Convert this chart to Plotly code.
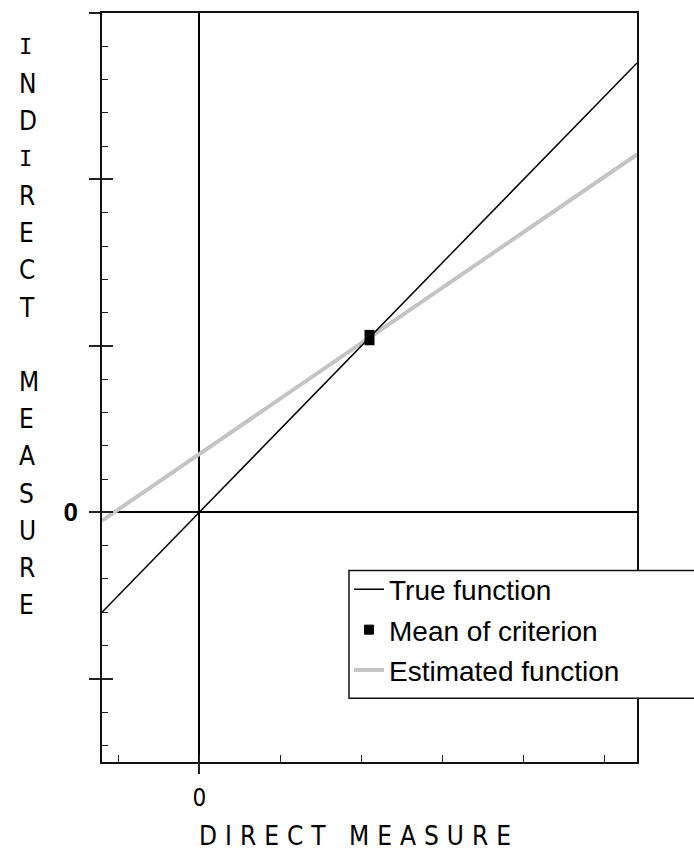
import plotly.graph_objects as go

# Axis ranges (data units)
x_range = [-1.2, 5.4]
y_range = [-1.5, 3.0]
x_ticks = [-1, 0, 1, 2, 3, 4, 5]
x_ticktext = ["", "0", "", "", "", "", ""]
y_ticks = [-1, 0, 1, 2, 3]
y_ticktext = ["", "<b>0</b>", "", "", ""]

# Line end points
true_x = [-1.2, 5.4]
true_y = [-0.6, 2.7]
est_x = [-1.2, 5.4]
est_y = [-0.05, 2.15]

# Mean of the criterion
mean_x = [2.1]
mean_y = [1.05]

y_title = "INDIRECT MEASURE"
x_title = "DIRECT MEASURE"

FONT = "Liberation Sans Narrow, DejaVu Sans Condensed, Liberation Sans, Arial, sans-serif"
LEG_FONT = "Liberation Sans, Arial, sans-serif"
MONO = "DejaVu Sans Mono"


def serif_i(size):
    return ("<span style='font-family:%s;font-size:%dpx'>I</span>"
            % (MONO, size))


W, H = 694, 856
M_L, M_R, M_T, M_B = 102, 57, 11, 94
PW, PH = W - M_L - M_R, H - M_T - M_B


def px_x(px):
    return (px - M_L) / PW


def px_y(py):
    return (H - M_B - py) / PH


fig = go.Figure()

fig.add_trace(go.Scatter(
    x=est_x, y=est_y, mode="lines", name="Estimated function",
    line=dict(color="#c4c4c4", width=4), legendrank=3, legendgroup="c",
))
fig.add_trace(go.Scatter(
    x=true_x, y=true_y, mode="lines", name="True function",
    line=dict(color="black", width=1.5), legendrank=1, legendgroup="a",
))
# the mean is drawn as an upright black block
fig.add_trace(go.Scatter(
    x=mean_x, y=mean_y, mode="markers", name="Mean of criterion",
    marker=dict(symbol="line-ns", size=11, color="black",
                line=dict(color="black", width=10)),
    showlegend=False, legendgroup="b",
))
# legend key for the mean (no data of its own)
fig.add_trace(go.Scatter(
    x=[None], y=[None], mode="markers", name="Mean of criterion",
    marker=dict(symbol="square", size=9, color="black",
                line=dict(color="black", width=1)),
    legendrank=2, legendgroup="b",
))
# invisible helper trace that carries the secondary tick axes
fig.add_trace(go.Scatter(
    x=[x_range[0]], y=[y_range[0]], xaxis="x2", yaxis="y2", mode="markers",
    marker=dict(opacity=0), showlegend=False, hoverinfo="skip",
))

axis_line = dict(showline=True, linecolor="#111", linewidth=1.5, mirror=True,
                 showgrid=False)

fig.update_layout(
    width=W, height=H,
    margin=dict(l=M_L, r=M_R, t=M_T, b=M_B),
    paper_bgcolor="white", plot_bgcolor="white",
    showlegend=True,
    xaxis=dict(
        range=x_range, tickmode="array", tickvals=x_ticks, ticktext=x_ticktext,
        ticks="inside", ticklen=7, tickwidth=1.3, tickcolor="#222",
        tickfont=dict(family=FONT, size=24, color="black"),
        ticklabelstandoff=13,
        zeroline=True, zerolinecolor="black", zerolinewidth=1.5,
        **axis_line,
    ),
    xaxis2=dict(
        range=x_range, overlaying="x", tickmode="array", tickvals=[0],
        ticks="outside", ticklen=11, tickwidth=1.5, tickcolor="#222",
        showticklabels=False, showgrid=False, zeroline=False, showline=False,
    ),
    yaxis=dict(
        range=y_range, tickmode="array", tickvals=y_ticks, ticktext=y_ticktext,
        ticks="outside", ticklen=11, tickwidth=1.5, tickcolor="#222",
        tickfont=dict(family="Liberation Sans, Arial", size=26, color="black"),
        ticklabelstandoff=6,
        zeroline=True, zerolinecolor="black", zerolinewidth=1.5,
        **axis_line,
    ),
    yaxis2=dict(
        range=y_range, overlaying="y", tickmode="linear", tick0=0, dtick=1,
        ticks="inside", ticklen=11, tickwidth=1.5, tickcolor="#222",
        minor=dict(ticks="inside", ticklen=6, tickwidth=1.3, tickcolor="#222",
                   tickmode="linear", tick0=0, dtick=0.2),
        showticklabels=False, showgrid=False, zeroline=False, showline=False,
    ),
    legend=dict(
        x=px_x(349), y=px_y(564), xanchor="left", yanchor="top",
        bgcolor="rgba(0,0,0,0)", borderwidth=0,
        font=dict(family=LEG_FONT, size=28, color="black"),
        tracegroupgap=1,
    ),
)

# Legend frame: opaque box running off the right edge of the page
fig.add_shape(
    type="rect", xref="paper", yref="paper", layer="above",
    x0=px_x(349), x1=px_x(W + 20), y0=px_y(698), y1=px_y(570),
    fillcolor="white", line=dict(color="#111", width=1.5),
)

# Vertical axis title: letters stacked one per line
slots = list(y_title)
top_px, bottom_px = 45, 605
step = (bottom_px - top_px) / (len(slots) - 1)
for i, ch in enumerate(slots):
    if ch == " ":
        continue
    fig.add_annotation(
        text=serif_i(22) if ch == "I" else ch,
        xref="paper", yref="paper", x=px_x(17), y=px_y(top_px + i * step),
        xanchor="left", yanchor="middle", showarrow=False,
        font=dict(family=FONT, size=26, color="black"),
    )

# Horizontal axis title with wide letter spacing
fig.add_annotation(
    text="<span style='letter-spacing:8px'>" + x_title + "</span>",
    xref="paper", yref="paper", x=px_x(197), y=px_y(836),
    xanchor="left", yanchor="middle", showarrow=False,
    font=dict(family=FONT, size=26, color="black"),
)

fig.write_html("out.html")
